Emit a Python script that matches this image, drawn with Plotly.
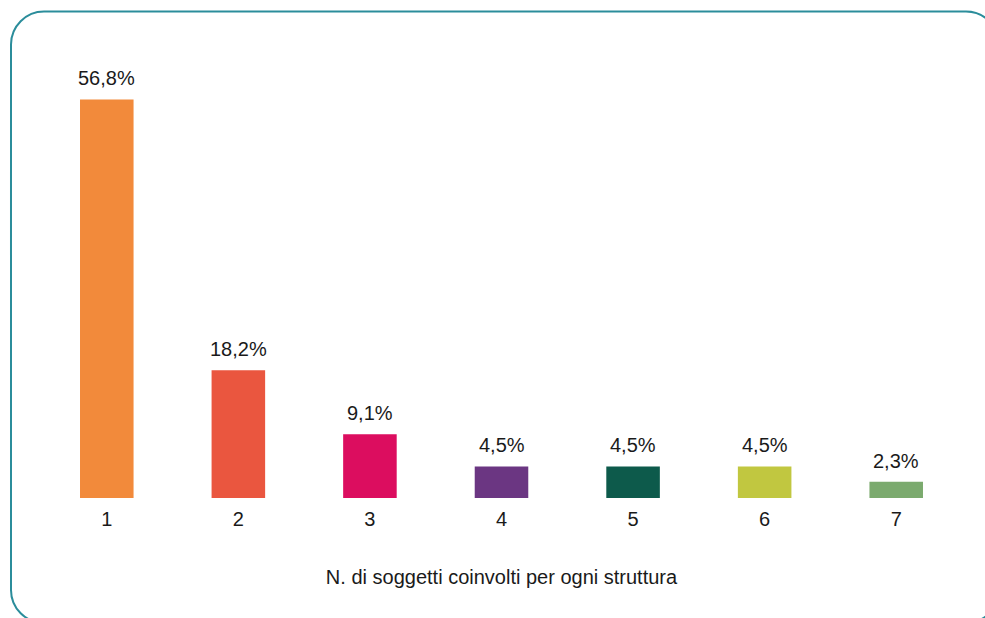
import plotly.graph_objects as go

# Share of facilities by number of involved subjects
categories = ["1", "2", "3", "4", "5", "6", "7"]
values = [56.8, 18.2, 9.1, 4.5, 4.5, 4.5, 2.3]
labels = ["56,8%", "18,2%", "9,1%", "4,5%", "4,5%", "4,5%", "2,3%"]
colors = ["#F28A3B", "#EA563F", "#DC0D5F", "#6B3682", "#0D5A4B", "#C1C740", "#7BAA6E"]
axis_title = "N. di soggetti coinvolti per ogni struttura"

W, H = 985, 618
ML, MR, MT, MB = 41, 23, 76.5, 120
PW, PH = W - ML - MR, H - MT - MB
FONT = "Liberation Sans, Arial, Helvetica, sans-serif"
TXT = "#1a1a1a"

fig = go.Figure(
    go.Bar(
        x=categories,
        y=values,
        marker=dict(color=colors, line=dict(width=0)),
        width=0.407,
        hoverinfo="skip",
    )
)

# Value labels above each bar (category axis: position by index)
for i, (v, t) in enumerate(zip(values, labels)):
    fig.add_annotation(
        x=i, y=v, text=t, showarrow=False,
        yanchor="bottom", yshift=8,
        font=dict(size=20, color=TXT, family=FONT),
    )


# Rounded frame around the panel, given in pixels and mapped to paper units
def px(x):
    return (x - ML) / PW


def py(y):
    return (H - MB - y) / PH


x0, y0, x1, y1, r = 11, 11, 999, 623, 33
k = 0.5523 * r
path = (
    f"M {px(x0 + r)},{py(y0)} L {px(x1 - r)},{py(y0)} "
    f"C {px(x1 - r + k)},{py(y0)} {px(x1)},{py(y0 + r - k)} {px(x1)},{py(y0 + r)} "
    f"L {px(x1)},{py(y1 - r)} "
    f"C {px(x1)},{py(y1 - r + k)} {px(x1 - r + k)},{py(y1)} {px(x1 - r)},{py(y1)} "
    f"L {px(x0 + r)},{py(y1)} "
    f"C {px(x0 + r - k)},{py(y1)} {px(x0)},{py(y1 - r + k)} {px(x0)},{py(y1 - r)} "
    f"L {px(x0)},{py(y0 + r)} "
    f"C {px(x0)},{py(y0 + r - k)} {px(x0 + r - k)},{py(y0)} {px(x0 + r)},{py(y0)} Z"
)
fig.add_shape(type="path", path=path, xref="paper", yref="paper",
              line=dict(color="#2B8D9B", width=2), layer="below")

fig.update_layout(
    width=W, height=H,
    margin=dict(l=ML, r=MR, t=MT, b=MB, pad=0),
    paper_bgcolor="white", plot_bgcolor="white",
    showlegend=False,
    font=dict(family=FONT, color=TXT),
    xaxis=dict(
        type="category", range=[-0.5, 6.5],
        showgrid=False, zeroline=False, showline=False, ticks="",
        tickfont=dict(size=20, color=TXT), ticklabelstandoff=7,
        title=dict(text=axis_title, font=dict(size=20, color=TXT), standoff=40),
        fixedrange=True,
    ),
    yaxis=dict(
        range=[0, 60], visible=False, showgrid=False, zeroline=False,
        fixedrange=True,
    ),
)

fig.write_html("out.html")
